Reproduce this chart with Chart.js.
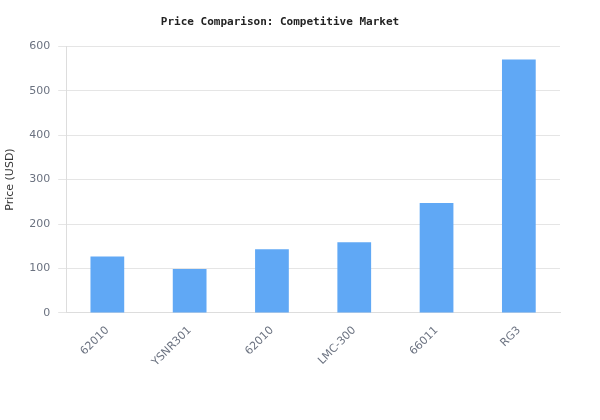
<!DOCTYPE html>
<html>
<head>
<meta charset="utf-8">
<script src="https://cdn.jsdelivr.net/npm/chart.js@4"></script>
<style>
  html, body { margin: 0; padding: 0; background: #fff; }
  #wrap { width: 600px; height: 420px; }
</style>
</head>
<body>
<div id="wrap"><canvas id="grafico"></canvas></div>
<script>
var modelos = ['62010', 'YSNR301', '62010', 'LMC-300', '66011', 'RG3'];
var precos = [127, 99, 143, 159, 247, 570];
var ticksY = [0, 100, 200, 300, 400, 500, 600];

var ctx = document.getElementById('grafico').getContext('2d');
var chart = new Chart(ctx, {
  type: 'bar',
  data: {
    labels: modelos,
    datasets: [{
      label: 'Price (USD)',
      data: precos,
      backgroundColor: '#60a8f5',
      borderWidth: 0,
      barPercentage: 0.82,
      categoryPercentage: 0.5
    }]
  },
  options: {
    responsive: true,
    maintainAspectRatio: false,
    animation: false,
    layout: { padding: { left: 0, right: 40, top: 0, bottom: 48 } },
    plugins: {
      legend: { display: false },
      title: {
        display: true,
        text: 'Price Comparison: Competitive Market',
        color: '#222',
        font: { family: 'DejaVu Sans Mono', size: 11, weight: 'bold' },
        padding: { top: 16, bottom: 17 }
      }
    },
    scales: {
      x: {
        grid: { display: false },
        border: { color: '#ddd' },
        ticks: {
          color: '#6b7280',
          font: { family: 'DejaVu Sans', size: 11 },
          maxRotation: 45, minRotation: 45
        }
      },
      y: {
        min: 0, max: 600,
        afterBuildTicks: function (ax) { ax.ticks = ticksY.map(function (v) { return { value: v }; }); },
        grid: { color: '#e5e5e5' },
        border: { color: '#ddd' },
        ticks: { color: '#6b7280', font: { family: 'DejaVu Sans', size: 11 }, padding: 8 },
        title: {
          display: true, text: 'Price (USD)', color: '#333',
          font: { family: 'DejaVu Sans', size: 11 }
        }
      }
    }
  }
});
</script>
</body>
</html>
